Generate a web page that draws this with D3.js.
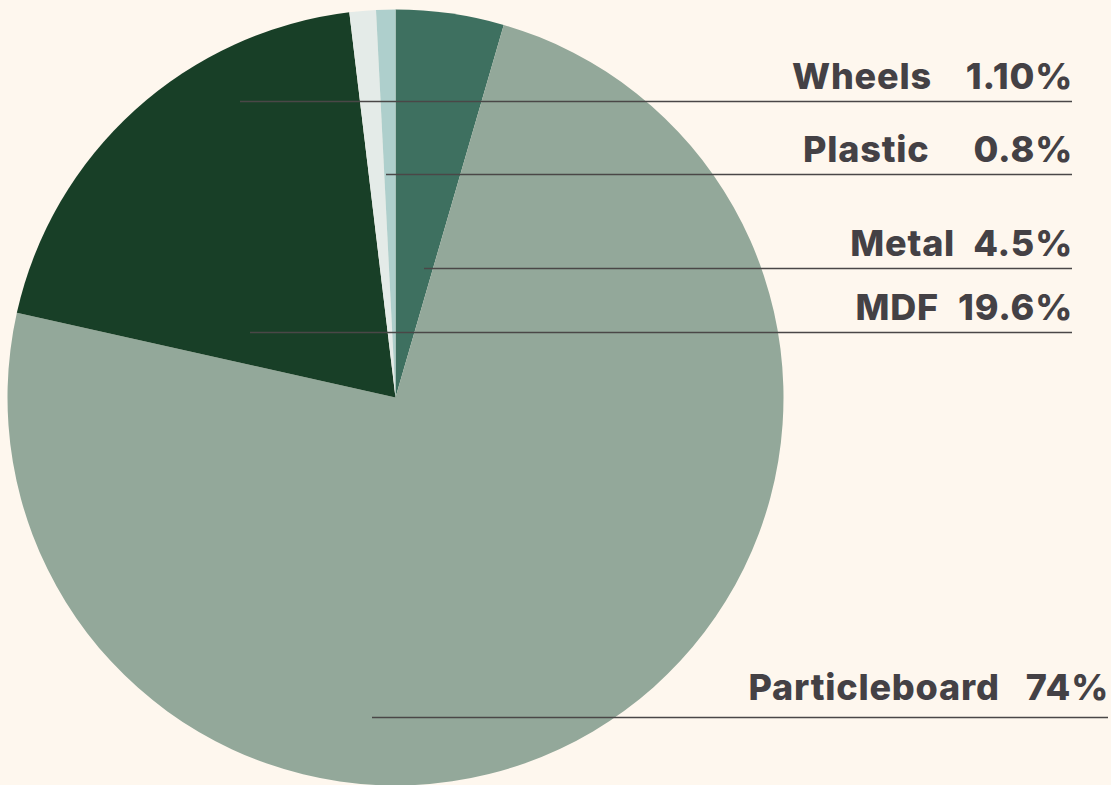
<!DOCTYPE html>
<html>
<head>
<meta charset="utf-8">
<script src="https://cdn.jsdelivr.net/npm/d3@7"></script>
<style>
  html, body { margin: 0; padding: 0; background: #fef7ee; }
  svg { display: block; }
  .lbl { font-family: Inter, "Open Sans", sans-serif; font-weight: 800; fill: #444145; letter-spacing: 0.8px; }
</style>
</head>
<body>
<div id="chart"></div>
<script>
// slices, clockwise from 12 o'clock
var materials = ["Metal", "Particleboard", "MDF", "Wheels", "Plastic"];
var shares = [4.5, 74, 19.6, 1.1, 0.8];
var shareLabels = ["4.5%", "74%", "19.6%", "1.10%", "0.8%"];
var sliceColors = ["#3e7060", "#93a89a", "#183f27", "#e4ebe8", "#aecfcc"];

// callouts: order of the text block on the right
var calloutOrder = ["Wheels", "Plastic", "Metal", "MDF", "Particleboard"];

var width = 1111, height = 785;
var cx = 395.5, cy = 397.5, radius = 388;

// callout layout (line y, where line starts, where it ends, gap label->value)
var callLayout = {
  "Wheels":        { y: 101.5, x0: 240, x1: 1072, gap: 34 },
  "Plastic":       { y: 174.5, x0: 386, x1: 1072, gap: 44 },
  "Metal":         { y: 268.5, x0: 424, x1: 1072, gap: 18 },
  "MDF":           { y: 332.5, x0: 250, x1: 1072, gap: 19 },
  "Particleboard": { y: 717.5, x0: 372, x1: 1108, gap: 26 }
};

var svg = d3.select("#chart").append("svg")
  .attr("width", width)
  .attr("height", height);

svg.append("rect").attr("width", width).attr("height", height).attr("fill", "#fef7ee");

var pie = d3.pie().sort(null).value(function(d) { return d; });
var arc = d3.arc().innerRadius(0).outerRadius(radius);
var color = d3.scaleOrdinal().domain(materials).range(sliceColors);

var g = svg.append("g").attr("transform", "translate(" + cx + "," + cy + ")");
g.selectAll("path")
  .data(pie(shares))
  .enter().append("path")
  .attr("d", arc)
  .attr("fill", function(d, i) { return color(materials[i]); });

// callouts
calloutOrder.forEach(function(name) {
  var i = materials.indexOf(name);
  var L = callLayout[name];
  svg.append("line")
    .attr("x1", L.x0).attr("x2", L.x1)
    .attr("y1", L.y).attr("y2", L.y)
    .attr("stroke", "#4a4747")
    .attr("stroke-width", 1.4);

  var base = L.y - (name == "Particleboard" ? 18 : 13);
  var val = svg.append("text")
    .attr("class", "lbl")
    .attr("x", L.x1 + 1)
    .attr("y", base)
    .attr("text-anchor", "end")
    .style("font-size", "36px")
    .text(shareLabels[i]);
  var w = val.node().getComputedTextLength();
  svg.append("text")
    .attr("class", "lbl")
    .attr("x", L.x1 + 1 - w - L.gap)
    .attr("y", base)
    .attr("text-anchor", "end")
    .style("font-size", "36px")
    .text(name);
});
</script>
</body>
</html>
